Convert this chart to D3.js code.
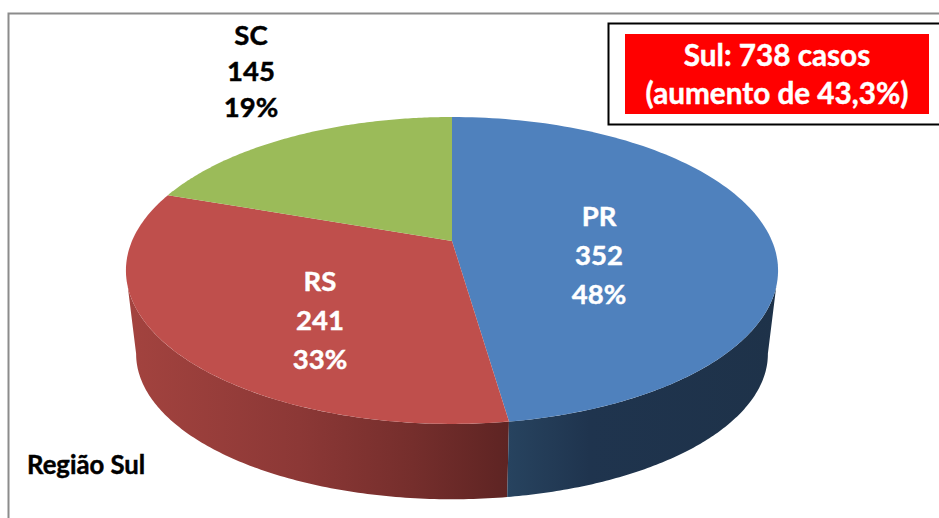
<!DOCTYPE html>
<html><head><meta charset="utf-8">
<script src="https://cdn.jsdelivr.net/npm/d3@7"></script>
<style>html,body{margin:0;padding:0;background:#fff;overflow:hidden}svg{display:block}text{font-family:Lato,"Open Sans",sans-serif;font-weight:700;stroke-width:.45px}</style>
</head><body><svg id="c" width="939" height="518"></svg>
<script>
const categories = ["PR","RS","SC"];
const values = [352,241,145];
const percentLabels = ["48%","33%","19%"];
const topColors = ["#4f81bd","#bf4f4c","#9bbb59"];
const boxLines = ["Sul: 738 casos","(aumento de 43,3%)"];
const caption = "Região Sul";

const svg = d3.select("#c");
const deg = Math.PI/180;
const k = -0.192, cx = 452;
function projector(a,b,y0){ return th=>{ const u=Math.sin(th), v=-Math.cos(th), d=1+k*v; return [cx+a*u/d, y0+b*v/d]; }; }
const topP = projector(320,147.8,241);
const lowP = projector(310,140,326);
const pie = d3.pie().sort(null).value(d=>d)(values);
const line = d3.line().curve(d3.curveLinear);
const sample=(p,s,e)=>d3.range(0,121).map(i=>p(s+(e-s)*i/120));

// frame
svg.append("path").attr("d","M8.5,518V13.5H939").attr("fill","none").attr("stroke","#8c8c8c").attr("stroke-width",2);

// defs
const defs=svg.append("defs");
function grad(id,x1,x2,stops){const g=defs.append("linearGradient").attr("id",id).attr("gradientUnits","userSpaceOnUse").attr("x1",x1).attr("x2",x2).attr("y1",0).attr("y2",0);
 stops.forEach(s=>g.append("stop").attr("offset",s[0]).attr("stop-color",s[1]));}
grad("sideRed",128,508,[[0,"#a3433f"],[0.45,"#8c3836"],[0.75,"#752e2c"],[1,"#5e2423"]]);
grad("sideBlue",508,780,[[0,"#27435f"],[0.3,"#1f344e"],[1,"#1e3249"]]);

// sides
const pr=pie[0], rs=pie[1];
svg.append("path").attr("d",line(sample(topP,rs.startAngle,253*deg).concat(sample(lowP,259*deg,rs.startAngle)))+"Z").attr("fill","url(#sideRed)");
svg.append("path").attr("d",line(sample(topP,107*deg,pr.endAngle).concat(sample(lowP,pr.endAngle,101*deg)))+"Z").attr("fill","url(#sideBlue)");

// top slices
svg.selectAll("path.slice").data(pie).join("path").attr("class","slice")
  .attr("d",d=>line([[cx,241]].concat(sample(topP,d.startAngle,d.endAngle)))+"Z")
  .attr("fill",(d,i)=>topColors[i]);

// labels
const labelPos=[[599,226,"#fff"],[320,291,"#fff"],[251,45,"#000"]];
categories.forEach((c,i)=>{
  const [x,y,col]=labelPos[i];
  const step=i===2?36:39;
  [c,String(values[i]),percentLabels[i]].forEach((t,j)=>{
    svg.append("text").attr("x",x).attr("y",y+j*step).attr("text-anchor","middle").attr("font-size",27.5).attr("fill",col).attr("stroke",col).text(t);
  });
});

// box
svg.append("path").attr("d","M939,23.5H608.5V124.5H939").attr("fill","#fff").attr("stroke","#000").attr("stroke-width",2);
svg.append("rect").attr("x",625).attr("y",34).attr("width",304).attr("height",80).attr("fill","#ff0000");
boxLines.forEach((t,i)=>svg.append("text").attr("x",777).attr("y",66+i*38).attr("text-anchor","middle").attr("font-size",29.7).attr("fill","#fff").attr("stroke","#fff").text(t));

svg.append("text").attr("x",27).attr("y",474).attr("font-size",25.7).attr("fill","#000").attr("stroke","#000").text(caption);
</script></body></html>
